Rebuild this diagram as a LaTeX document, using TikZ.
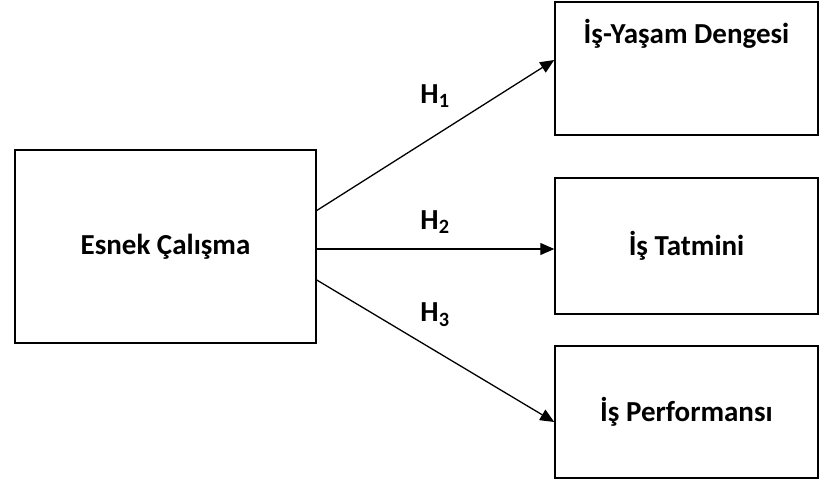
\documentclass[tikz,border=0pt]{standalone}
\usepackage{fontspec}
\setmainfont{Carlito}
\usepackage{tikz}
\usetikzlibrary{arrows.meta}
\tikzset{
  kutu/.style={draw, line width=1.5pt, rectangle, inner sep=0pt,
    font=\fontsize{29}{34}\selectfont\bfseries},
  hok/.style={-{Triangle[length=14pt,width=12pt]}, line width=1.3pt},
  hlabel/.style={font=\fontsize{29}{34}\selectfont\bfseries},
  }
\newcommand{\hip}[1]{H\textsubscript{#1}}

\begin{document}
\begin{tikzpicture}[x=1pt,y=-1pt]
            \useasboundingbox (0,0) rectangle (821,481);
            % Boxes
            \node[kutu, minimum width=301pt, minimum height=193pt] (esnek) at (165.5,246.5) {Esnek Çalışma};
            \node[kutu, minimum width=263pt, minimum height=133pt,
                  label={[kutu, draw=none, anchor=north, yshift=-17pt]north:İş-Yaşam Dengesi}] (denge) at (686.5,68.5) {};
            \node[kutu, minimum width=263pt, minimum height=136pt] (tatmin) at (686.5,246) {İş Tatmini};
            \node[kutu, minimum width=263pt, minimum height=132pt] (perf) at (686.5,412) {İş Performansı};

            % Arrows
            \draw[hok] ([yshift=36pt]esnek.east) -- ([yshift=8.5pt]denge.west);
            \draw[hok] ([yshift=-2.5pt]esnek.east) -- ([yshift=-3pt]tatmin.west);
            \draw[hok] ([yshift=-33.5pt]esnek.east) -- ([yshift=-10pt]perf.west);

            % Labels
            \node[hlabel] (h1) at (435,96) {\hip{1}};
            \node[hlabel] (h2) at (435,222) {\hip{2}};
            \node[hlabel] (h3) at (435,315) {\hip{3}};
\end{tikzpicture}
\end{document}
